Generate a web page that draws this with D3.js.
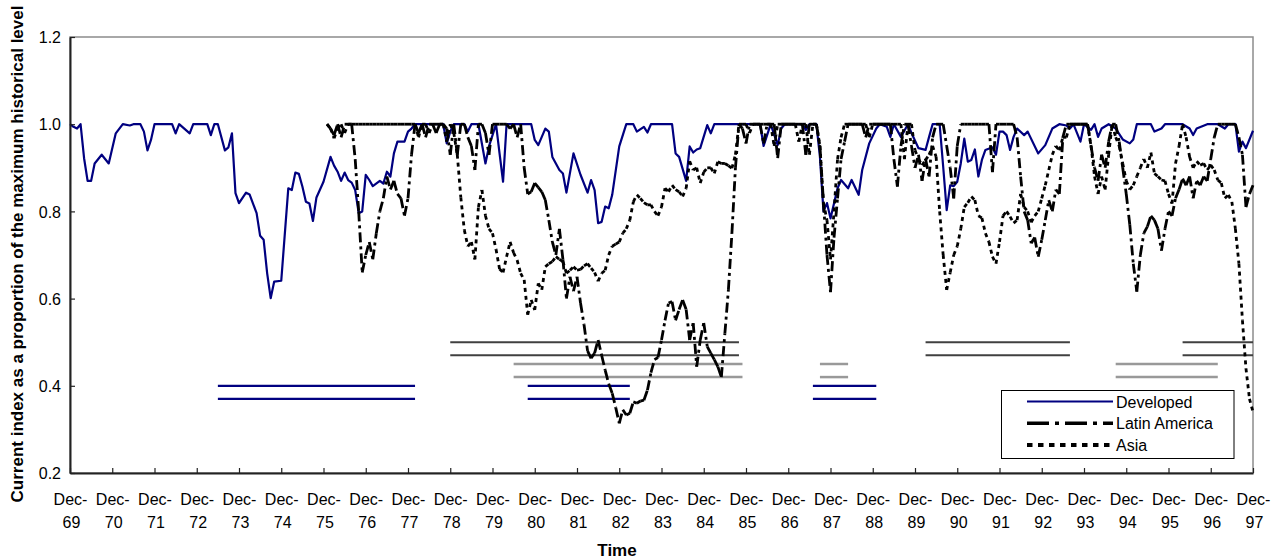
<!DOCTYPE html>
<html>
<head>
<meta charset="utf-8">
<script src="https://cdn.jsdelivr.net/npm/d3@7"></script>
<style>
  body { margin: 0; background: #fff; }
  text { font-family: "Liberation Sans", Arial, sans-serif; fill: #000; }
</style>
</head>
<body>
<svg id="chart" width="1273" height="559"></svg>
<script>
// Monthly index: 0 = Dec-69, 336 = Dec-97

// Developed markets: [month, index / historical max]
const developed = [
  [0,1.0],[1,0.994],[2,0.99],[3,1.0],[4,0.922],[5,0.87],[6,0.87],[7,0.91],[9,0.93],[11,0.91],[13,0.979],[15,1.0],
  [17,0.997],[18,1.0],[20,1.0],[21,0.983],[22,0.94],[23,0.964],[24,1.0],[29,1.0],[30,0.979],[31,1.0],[34,0.979],[35,1.0],
  [39,1.0],[40,0.975],[41,1.0],[42,1.0],[44,0.94],[45,0.947],[46,0.979],[47,0.842],[48,0.819],[50,0.843],[51,0.839],[53,0.796],
  [54,0.744],[55,0.735],[56,0.658],[57,0.601],[58,0.639],[60,0.641],[62,0.853],[63,0.849],[64,0.889],[65,0.886],[66,0.857],[67,0.822],
  [68,0.818],[69,0.778],[70,0.832],[72,0.868],[74,0.925],[75,0.905],[76,0.891],[77,0.87],[78,0.889],[79,0.872],[80,0.866],[81,0.849],
  [82,0.796],[83,0.8],[84,0.884],[85,0.872],[86,0.858],[88,0.87],[89,0.864],[90,0.891],[91,0.88],[92,0.933],[93,0.96],[95,0.96],
  [96,0.983],[97,0.99],[98,1.0],[106,1.0],[107,0.956],[108,0.983],[109,1.0],[112,1.0],[113,0.983],[114,1.0],[116,1.0],[118,0.91],
  [119,0.949],[121,1.0],[122,0.933],[123,0.868],[124,1.0],[131,1.0],[132,0.964],[133,0.952],[135,0.99],[136,0.983],[137,0.925],[139,0.895],
  [140,0.887],[141,0.843],[143,0.933],[145,0.884],[147,0.843],[148,0.872],[149,0.849],[150,0.773],[151,0.776],[152,0.811],[153,0.807],[154,0.838],
  [156,0.949],[158,1.0],[160,1.0],[161,0.983],[163,0.994],[164,0.981],[165,1.0],[171,1.0],[172,0.933],[173,0.925],[175,0.87],[176,0.949],
  [177,0.935],[178,0.942],[179,0.945],[181,0.998],[182,0.979],[183,1.0],[196,1.0],[197,0.95],[198,0.975],[199,1.0],[201,0.952],[202,0.99],
  [203,1.0],[208,1.0],[209,0.987],[210,1.0],[212,1.0],[213,0.925],[214,0.8],[215,0.819],[216,0.784],[218,0.853],[219,0.872],[221,0.853],
  [222,0.872],[224,0.838],[225,0.895],[227,0.956],[229,0.99],[230,1.0],[232,0.994],[233,0.971],[234,1.0],[236,0.971],[238,1.0],[239,0.98],
  [241,0.945],[243,0.941],[244,0.971],[245,1.0],[247,1.0],[248,0.903],[249,0.803],[250,0.86],[251,0.858],[252,0.868],[253,0.91],[254,0.967],
  [255,0.914],[256,0.918],[257,0.942],[258,0.88],[259,0.918],[260,0.941],[262,0.947],[263,0.93],[264,0.983],[265,0.983],[266,0.975],[267,0.941],
  [268,0.971],[269,0.99],[271,0.975],[272,0.983],[275,0.933],[277,0.952],[279,0.99],[281,1.0],[283,0.997],[284,0.99],[285,1.0],[287,0.96],
  [288,1.0],[290,0.987],[291,1.0],[292,0.971],[293,0.99],[295,1.0],[297,0.99],[299,0.965],[301,0.956],[302,0.965],[303,1.0],[307,1.0],
  [308,0.983],[310,0.99],[311,1.0],[316,1.0],[318,0.99],[319,0.975],[320,0.99],[323,1.0],[326,1.0],[328,0.99],[329,1.0],[331,1.0],
  [332,0.937],[333,0.96],[334,0.945],[336,0.985]
];

// Latin America and Asia: monthly values from Jan-76 (month 73) to Dec-97
const emergingStart = 73;

const latinAmerica = [
  1.0, 0.99, 0.975, 1.0, 0.97, 1.0, 1.0, 1.0, 0.92, 0.8, 0.66, 0.70,
  0.73, 0.69, 0.75, 0.80, 0.83, 0.88, 0.85, 0.87, 0.84, 0.83, 0.79, 0.83,
  0.93, 1.0, 0.98, 1.0, 0.97, 1.0, 1.0, 0.98, 1.0, 1.0, 0.99, 0.93,
  1.0, 0.93, 1.0, 1.0, 0.97, 0.95, 0.895, 1.0, 1.0, 0.98, 0.93, 1.0,
  1.0, 1.0, 1.0, 1.0, 0.99, 1.0, 0.97, 1.0, 0.9, 0.84, 0.845, 0.865,
  0.855, 0.845, 0.826, 0.78, 0.73, 0.70, 0.76, 0.69, 0.6, 0.65, 0.617, 0.65,
  0.59, 0.54, 0.48, 0.463, 0.475, 0.505, 0.47, 0.436, 0.405, 0.383, 0.35, 0.314,
  0.345, 0.333, 0.337, 0.363, 0.36, 0.365, 0.367, 0.39, 0.43, 0.46, 0.465, 0.505,
  0.55, 0.59, 0.593, 0.55, 0.575, 0.597, 0.575, 0.505, 0.544, 0.444, 0.505, 0.544,
  0.49, 0.475, 0.46, 0.444, 0.42, 0.52, 0.62, 0.75, 0.9, 1.0, 0.99, 0.956,
  1.0, 1.0, 1.0, 1.0, 0.956, 1.0, 1.0, 1.0, 0.922, 1.0, 1.0, 1.0,
  1.0, 1.0, 1.0, 1.0, 0.93, 1.0, 1.0, 1.0, 0.95, 0.82, 0.70, 0.615,
  0.74, 0.83, 0.92, 0.96, 1.0, 1.0, 1.0, 1.0, 1.0, 0.97, 1.0, 1.0,
  1.0, 1.0, 1.0, 1.0, 1.0, 0.92, 0.857, 0.95, 1.0, 1.0, 0.95, 0.9,
  0.93, 0.87, 0.92, 0.88, 0.97, 1.0, 1.0, 1.0, 0.95, 0.9, 0.83, 0.95,
  1.0, 1.0, 1.0, 1.0, 1.0, 1.0, 1.0, 1.0, 1.0, 0.89, 1.0, 1.0,
  1.0, 1.0, 1.0, 1.0, 0.97, 0.88, 0.8, 0.78, 0.727, 0.74, 0.696, 0.735,
  0.78, 0.826, 0.8, 0.85, 0.84, 0.97, 1.0, 1.0, 1.0, 1.0, 1.0, 1.0,
  1.0, 0.95, 0.9, 0.87, 0.93, 0.9, 0.96, 1.0, 1.0, 0.96, 0.9, 0.84,
  0.77, 0.68, 0.616, 0.7, 0.75, 0.765, 0.79, 0.78, 0.76, 0.71, 0.76, 0.8,
  0.79, 0.83, 0.85, 0.875, 0.86, 0.88, 0.83, 0.87, 0.86, 0.88, 0.87, 0.92,
  0.97, 1.0, 1.0, 1.0, 1.0, 1.0, 1.0, 0.97, 0.93, 0.81, 0.84, 0.86
];

const asia = [
  1.0, 0.99, 0.968, 0.99, 1.0, 0.98, 1.0, 1.0, 1.0, 1.0, 1.0, 1.0,
  1.0, 1.0, 1.0, 1.0, 1.0, 1.0, 1.0, 1.0, 1.0, 1.0, 1.0, 1.0,
  1.0, 1.0, 0.97, 1.0, 1.0, 0.98, 1.0, 1.0, 1.0, 1.0, 0.96, 1.0,
  0.98, 0.93, 0.832, 0.757, 0.72, 0.73, 0.69, 0.81, 0.849, 0.79, 0.76, 0.75,
  0.713, 0.668, 0.66, 0.696, 0.73, 0.705, 0.688, 0.658, 0.643, 0.563, 0.597, 0.574,
  0.635, 0.62, 0.673, 0.68, 0.685, 0.696, 0.69, 0.685, 0.658, 0.665, 0.673, 0.665,
  0.667, 0.675, 0.68, 0.67, 0.66, 0.64, 0.658, 0.665, 0.7, 0.72, 0.725, 0.73,
  0.75, 0.76, 0.78, 0.822, 0.838, 0.83, 0.82, 0.815, 0.815, 0.8, 0.79, 0.81,
  0.853, 0.845, 0.86, 0.85, 0.845, 0.834, 0.853, 0.915, 0.895, 0.9, 0.865, 0.89,
  0.9, 0.9, 0.887, 0.914, 0.91, 0.91, 0.905, 0.899, 0.93, 1.0, 1.0, 1.0,
  0.98, 1.0, 1.0, 1.0, 1.0, 1.0, 1.0, 0.95, 1.0, 1.0, 1.0, 1.0,
  1.0, 1.0, 0.96, 1.0, 1.0, 0.93, 1.0, 1.0, 0.95, 0.82, 0.78, 0.69,
  0.8, 0.92, 0.97, 1.0, 1.0, 1.0, 1.0, 1.0, 1.0, 1.0, 0.97, 1.0,
  1.0, 1.0, 1.0, 1.0, 1.0, 1.0, 1.0, 1.0, 0.92, 1.0, 1.0, 0.94,
  0.92, 0.906, 0.918, 0.93, 0.95, 0.925, 0.8, 0.7, 0.62, 0.66, 0.7, 0.72,
  0.76, 0.81, 0.82, 0.834, 0.826, 0.79, 0.785, 0.75, 0.73, 0.696, 0.68, 0.73,
  0.79, 0.8, 0.788, 0.773, 0.78, 0.84, 0.81, 0.8, 0.775, 0.79, 0.8, 0.83,
  0.86, 0.895, 0.93, 0.95, 0.94, 0.97, 0.97, 1.0, 1.0, 1.0, 1.0, 1.0,
  1.0, 0.95, 0.88, 0.84, 0.88, 0.85, 0.93, 1.0, 0.97, 0.95, 0.91, 0.87,
  0.85, 0.86, 0.88, 0.9, 0.92, 0.9, 0.935, 0.887, 0.88, 0.872, 0.87, 0.84,
  0.818, 0.91, 0.95, 1.0, 0.97, 0.925, 0.9, 0.915, 0.906, 0.91, 0.895, 0.906,
  0.895, 0.872, 0.865, 0.83, 0.838, 0.822, 0.76, 0.68, 0.55, 0.44, 0.37, 0.34
];

// Crisis periods [start month, end month], each marked by a pair of bars
const developedCrises = [[42, 98], [130, 159], [211, 229]];
const latinCrises = [[108, 190], [243, 284], [316, 336]];
const asiaCrises = [[126, 191], [213, 221], [297, 326]];
const developedBarLevels = [0.40, 0.37];
const latinBarLevels = [0.50, 0.47];
const asiaBarLevels = [0.45, 0.42];

const yTicks = [0.2, 0.4, 0.6, 0.8, 1.0, 1.2];
const tickYears = ["69","70","71","72","73","74","75","76","77","78","79","80","81","82","83",
                   "84","85","86","87","88","89","90","91","92","93","94","95","96","97"];
const seriesNames = ["Developed", "Latin America", "Asia"];

// ---- layout ----
const plotLeft = 70, plotRight = 1253, plotTop = 37, plotBottom = 473;
const svg = d3.select("#chart");

const x = d3.scaleLinear().domain([0, 336]).range([plotLeft, plotRight]);
const y = d3.scaleLinear().domain([0.2, 1.2]).range([plotBottom, plotTop]);

const navy = "#000080";

// plot frame (light border on top and right)
svg.append("rect")
  .attr("x", plotLeft).attr("y", plotTop)
  .attr("width", plotRight - plotLeft).attr("height", plotBottom - plotTop)
  .attr("fill", "none").attr("stroke", "#8c8c8c").attr("stroke-width", 1.5);

// crisis bars
function crisisBars(periods, levels, color, width) {
  const g = svg.append("g");
  periods.forEach(p => {
    levels.forEach(lv => {
      g.append("line")
        .attr("x1", x(p[0])).attr("x2", x(p[1]))
        .attr("y1", y(lv)).attr("y2", y(lv))
        .attr("stroke", color).attr("stroke-width", width);
    });
  });
}
crisisBars(latinCrises, latinBarLevels, "#404040", 2);
crisisBars(asiaCrises, asiaBarLevels, "#999999", 2.5);
crisisBars(developedCrises, developedBarLevels, navy, 2.2);

const line = d3.line().x(d => x(d[0])).y(d => y(d[1]));

// developed: continuous solid line
svg.append("path")
  .datum(developed)
  .attr("d", line)
  .attr("fill", "none")
  .attr("stroke", navy)
  .attr("stroke-width", 2.2)
  .attr("stroke-linejoin", "round");

// emerging series: dash pattern restarts on every monthly segment
function segmented(values, dash, width) {
  const pts = values.map((v, i) => [emergingStart + i, v]);
  svg.append("g")
    .selectAll("path")
    .data(d3.pairs(pts))
    .join("path")
    .attr("d", line)
    .attr("fill", "none")
    .attr("stroke", "#000")
    .attr("stroke-width", width)
    .attr("stroke-dasharray", dash);
}
segmented(latinAmerica, "10,4,3,4", 2.8);
segmented(asia, "4,4", 2.8);

// axes
const yAxis = svg.append("g")
  .attr("transform", `translate(${plotLeft},0)`)
  .call(d3.axisLeft(y).tickValues(yTicks).tickSizeInner(-5).tickSizeOuter(0).tickFormat(d3.format(".1f")));
yAxis.select(".domain").attr("stroke", "#222").attr("stroke-width", 2);
yAxis.selectAll(".tick line").attr("stroke", "#222").attr("stroke-width", 1.2);
yAxis.selectAll(".tick text")
  .attr("x", -9).attr("dy", "0.36em")
  .style("font-size", "16px").style("font-family", "Liberation Sans, Arial, sans-serif");

const xAxis = svg.append("g")
  .attr("transform", `translate(0,${plotBottom})`)
  .call(d3.axisBottom(x).tickValues(d3.range(0, 337, 12)).tickSizeInner(-5).tickSizeOuter(0).tickFormat(() => ""));
xAxis.select(".domain").attr("stroke", "#222").attr("stroke-width", 2);
xAxis.selectAll(".tick line").attr("stroke", "#222").attr("stroke-width", 1.2);
xAxis.selectAll(".tick text").remove();
xAxis.selectAll(".tick").each(function(d, i) {
  const t = d3.select(this).append("text")
    .attr("text-anchor", "middle")
    .style("font-size", "16px");
  t.append("tspan").attr("x", 0).attr("y", 32).text("Dec-");
  t.append("tspan").attr("x", 1).attr("y", 55).text(tickYears[i]);
});

// axis titles
svg.append("text")
  .attr("x", 617).attr("y", 556)
  .attr("text-anchor", "middle")
  .style("font-size", "17px").style("font-weight", "bold")
  .text("Time");

svg.append("text")
  .attr("transform", "translate(23,254) rotate(-90)")
  .attr("text-anchor", "middle")
  .style("font-size", "17px").style("font-weight", "bold")
  .text("Current index as a proportion of the maximum historical level");

// legend
const legend = svg.append("g");
legend.append("rect")
  .attr("x", 1001.5).attr("y", 390.5)
  .attr("width", 232.5).attr("height", 68)
  .attr("fill", "#fff").attr("stroke", "#000").attr("stroke-width", 1);
const legendStyles = [
  { color: navy, dash: null, width: 2 },
  { color: "#000", dash: "22,6,4,6", width: 3.5 },
  { color: "#000", dash: "5.5,5.5", width: 4 }
];
seriesNames.forEach((name, i) => {
  const ly = 401.5 + i * 21.7;
  legend.append("line")
    .attr("x1", 1027).attr("x2", 1113)
    .attr("y1", ly).attr("y2", ly)
    .attr("stroke", legendStyles[i].color)
    .attr("stroke-width", legendStyles[i].width)
    .attr("stroke-dasharray", legendStyles[i].dash);
  legend.append("text")
    .attr("x", 1116).attr("y", ly + 6)
    .style("font-size", "16px")
    .text(name);
});
</script>
</body>
</html>
